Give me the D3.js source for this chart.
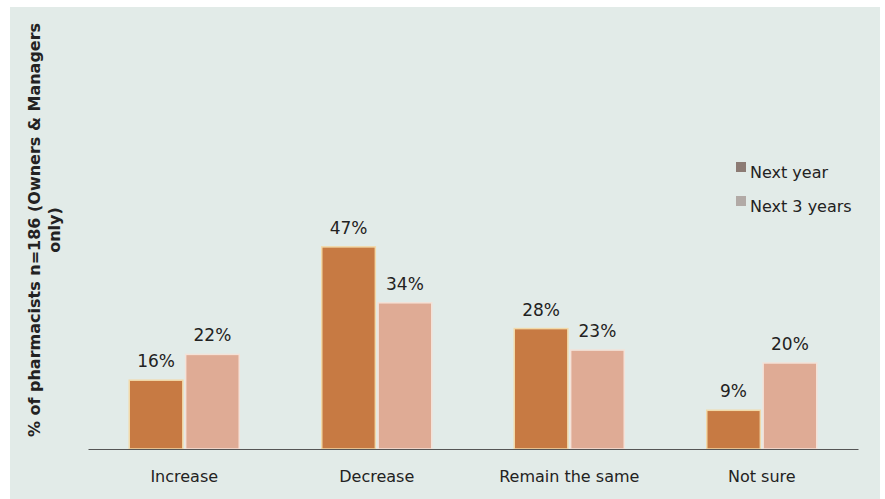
<!DOCTYPE html>
<html>
<head>
<meta charset="utf-8">
<script src="https://cdn.jsdelivr.net/npm/d3@7"></script>
<style>
  html, body { margin: 0; padding: 0; background: #ffffff; }
  svg { display: block; }
  text { font-family: "DejaVu Sans", sans-serif; fill: #222; }
</style>
</head>
<body>
<svg id="chart" width="885" height="499"></svg>
<script>
// Pharmacist outlook by answer and time horizon
const categories = ["Increase", "Decrease", "Remain the same", "Not sure"];
const seriesNames = ["Next year", "Next 3 years"];
const nextYear = [16, 47, 28, 9];
const next3Years = [22, 34, 23, 20];
const yAxisTitle = ["% of pharmacists n=186 (Owners & Managers", "only)"];

const colors = ["#c77a43", "#dfab95"];
const edgeColors = ["#f2d9a8", "#f4e2d8"];
const legendSwatch = ["#8c7b74", "#b2aaa6"];

const W = 885, H = 499;
const margin = { left: 88, right: 27, top: 19, bottom: 50 };
const svg = d3.select("#chart");

// panel background
svg.append("rect")
  .attr("x", 10).attr("y", 7)
  .attr("width", 870).attr("height", 492)
  .attr("fill", "#e2ebe8");

const x0 = d3.scaleBand()
  .domain(categories)
  .range([margin.left, W - margin.right])
  .paddingInner(0).paddingOuter(0);

const x1 = d3.scaleBand()
  .domain(seriesNames)
  .range([0, 110])
  .paddingInner(0.05);

const y = d3.scaleLinear()
  .domain([0, 100])
  .range([H - margin.bottom, H - margin.bottom - 430]);

const rows = categories.map((c, i) => ({
  cat: c,
  vals: [
    { s: seriesNames[0], v: nextYear[i], k: 0 },
    { s: seriesNames[1], v: next3Years[i], k: 1 }
  ]
}));

const groups = svg.selectAll("g.grp")
  .data(rows)
  .enter().append("g")
  .attr("class", "grp")
  .attr("transform", d => `translate(${x0(d.cat) + x0.bandwidth() / 2 - 55},0)`);

groups.selectAll("rect.bar")
  .data(d => d.vals)
  .enter().append("rect")
  .attr("class", "bar")
  .attr("x", d => x1(d.s))
  .attr("y", d => y(d.v))
  .attr("width", x1.bandwidth())
  .attr("height", d => y(0) - y(d.v))
  .attr("fill", d => colors[d.k])
  .attr("stroke", d => edgeColors[d.k])
  .attr("stroke-width", 1.5);

groups.selectAll("text.val")
  .data(d => d.vals)
  .enter().append("text")
  .attr("class", "val")
  .attr("x", d => x1(d.s) + x1.bandwidth() / 2)
  .attr("y", d => y(d.v) - 13)
  .attr("text-anchor", "middle")
  .attr("font-size", 17)
  .text(d => d.v + "%");

// category axis
const xAxis = svg.append("g")
  .attr("transform", `translate(0,${y(0)})`)
  .call(d3.axisBottom(x0).tickSize(0).tickPadding(22));
xAxis.select(".domain").attr("stroke", "#555").attr("stroke-width", 1);
xAxis.selectAll("text")
  .attr("font-size", 16)
  .attr("fill", "#222")
  .style("font-family", '"DejaVu Sans", sans-serif');

// y axis title
const yt = svg.append("text")
  .attr("transform", "translate(40,230) rotate(-90)")
  .attr("text-anchor", "middle")
  .attr("font-size", 16)
  .attr("font-weight", "bold")
  .attr("fill", "#333");
yt.append("tspan").attr("x", 0).attr("dy", 0).text(yAxisTitle[0]);
yt.append("tspan").attr("x", 0).attr("dy", 20).text(yAxisTitle[1]);

// legend
const legend = svg.append("g").attr("transform", "translate(736,172)");
seriesNames.forEach((s, i) => {
  const g = legend.append("g").attr("transform", `translate(0,${i * 34})`);
  g.append("rect")
    .attr("x", 0).attr("y", -10)
    .attr("width", 10).attr("height", 10)
    .attr("fill", legendSwatch[i]);
  g.append("text")
    .attr("x", 14).attr("y", 6)
    .attr("font-size", 16)
    .text(s);
});
</script>
</body>
</html>
